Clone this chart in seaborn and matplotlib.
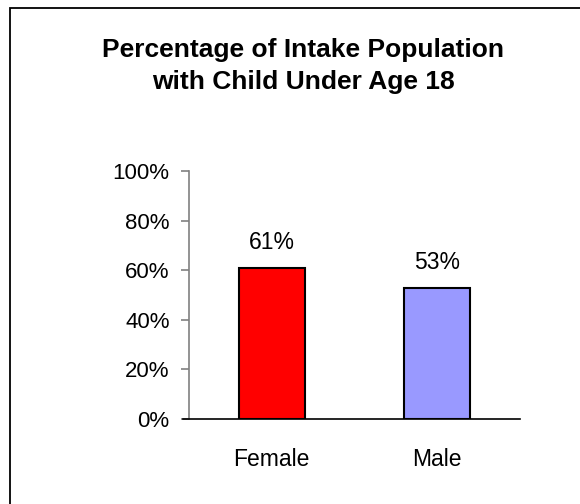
import matplotlib
matplotlib.use("Agg")
import matplotlib.pyplot as plt
import seaborn as sns
import pandas as pd
from matplotlib.patches import Rectangle
from matplotlib.ticker import PercentFormatter

# Data
categories = ["Female", "Male"]
percentages = [61, 53]
bar_colors = ["#FF0000", "#9999FF"]
y_ticks = [0, 20, 40, 60, 80, 100]
title_text = "Percentage of Intake Population\nwith Child Under Age 18"

df = pd.DataFrame({"group": categories, "pct": percentages})

sns.set_theme(style="white")
plt.rcParams["font.family"] = ["Liberation Sans", "DejaVu Sans"]

fig = plt.figure(figsize=(5.8, 5.04), dpi=100)
ax = fig.add_axes([189 / 580, 1 - 419 / 504, (520 - 189) / 580, (419 - 171) / 504])

sns.barplot(data=df, x="group", y="pct", hue="group", palette=bar_colors,
            width=0.4, edgecolor="black", linewidth=1.5, legend=False,
            saturation=1, ax=ax)

ax.set_xlim(-0.5, 1.5)
ax.set_ylim(0, 100)
ax.set_yticks(y_ticks)
ax.yaxis.set_major_formatter(PercentFormatter(decimals=0))
ax.set_xlabel("")
ax.set_ylabel("")

for s in ["top", "right"]:
    ax.spines[s].set_visible(False)
ax.spines["left"].set_color("#808080")
ax.spines["left"].set_linewidth(1.2)
ax.spines["bottom"].set_color("black")
ax.spines["bottom"].set_linewidth(1.2)
ax.spines["bottom"].set_bounds(-0.535, 1.5)

ax.tick_params(axis="y", left=True, length=6, width=1.2, color="#808080",
               pad=8, labelsize=16, labelcolor="black")
ax.tick_params(axis="x", bottom=False, length=0, pad=21, labelsize=16.5,
               labelcolor="black")

for i, v in enumerate(percentages):
    ax.annotate(f"{v}%", xy=(i, v), xytext=(0, 18), textcoords="offset points",
                ha="center", va="center", fontsize=16.5, color="black")

fig.text(303 / 580, 1 - 66 / 504, title_text, ha="center", va="center",
         fontsize=19, fontweight="bold", color="black", linespacing=1.45)

# Outer chart frame
fig.patches.append(Rectangle((10 / 580, -0.1), 1.2, 1 - 8 / 504 + 0.1,
                             transform=fig.transFigure, fill=False,
                             edgecolor="black", linewidth=1.3))

fig.savefig("out.png", dpi=100)
